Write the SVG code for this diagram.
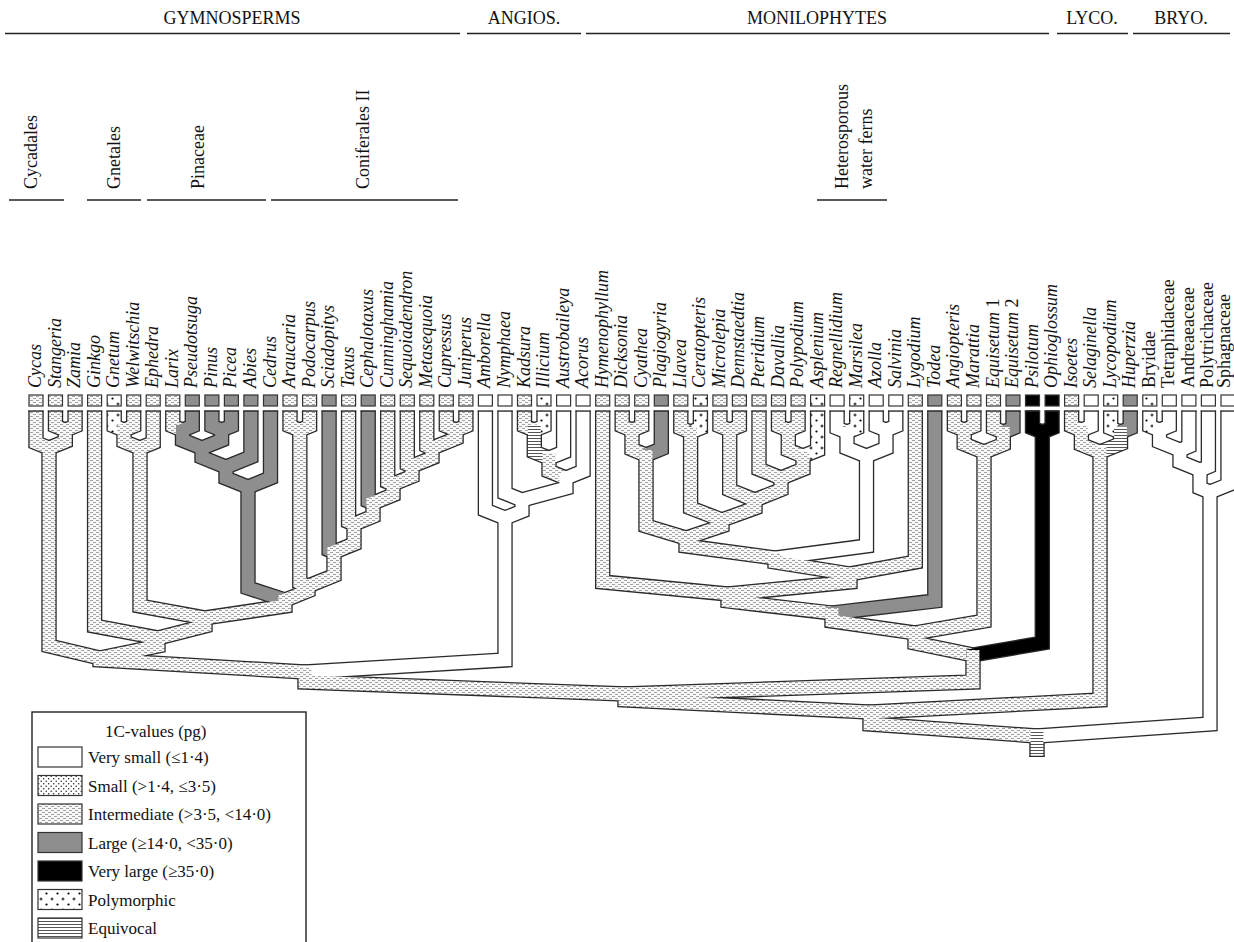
<svg xmlns="http://www.w3.org/2000/svg" width="1234" height="942" viewBox="0 0 1234 942">
<defs>
<style>
.hd{font-family:"Liberation Serif","Times New Roman",serif;font-size:18px;fill:#111}
.tl{font-family:"Liberation Serif","Times New Roman",serif;font-size:18px;font-style:italic;fill:#111}
.tr{font-family:"Liberation Serif","Times New Roman",serif;font-size:18px;fill:#111}
.lg{font-family:"Liberation Serif","Times New Roman",serif;font-size:17px;fill:#111}
.ln{stroke:#222;stroke-width:1.6;fill:none}
.bx{stroke:#333;stroke-width:1.2}
.bi{fill:url(#pI)} .bw{fill:#fff} .bl{fill:#8e8e8e} .bk{fill:#000} .bp{fill:url(#pP)} .be{fill:url(#pE)} .bs{fill:url(#pS)}
.o{fill:none;stroke:#2b2b2b;stroke-width:15.4;stroke-linejoin:miter;stroke-miterlimit:10}
.f{fill:none;stroke-width:12.8;stroke-linejoin:miter;stroke-miterlimit:10}
.si{stroke:url(#pI)} .sw{stroke:#fff} .sl{stroke:#8e8e8e} .sk{stroke:#000} .sp{stroke:url(#pP)} .se{stroke:url(#pE)}
</style>
<pattern id="pI" width="6" height="4" patternUnits="userSpaceOnUse"><rect width="6" height="4" fill="#f7f7f7"/><rect x="0" y="0" width="3" height="1" fill="#a3a3a3"/><rect x="3" y="2" width="3" height="1" fill="#a3a3a3"/></pattern>
<pattern id="pS" width="5" height="5" patternUnits="userSpaceOnUse"><rect width="5" height="5" fill="#fff"/><circle cx="1.2" cy="1.2" r="0.75" fill="#222"/><circle cx="3.7" cy="3.7" r="0.75" fill="#222"/></pattern>
<pattern id="pP" width="11" height="11" patternUnits="userSpaceOnUse"><rect width="11" height="11" fill="#fff"/><circle cx="2.5" cy="2.5" r="1.1" fill="#000"/><path d="M8 6.5v3M6.5 8h3" stroke="#000" stroke-width="0.9"/></pattern>
<pattern id="pE" width="4" height="3" patternUnits="userSpaceOnUse"><rect width="4" height="3" fill="#fff"/><rect y="0" width="4" height="1" fill="#555"/></pattern>

<path id="e1" d="M36 410.5V442.8L49 448V451"/>
<path id="e2" d="M55.5 410.5V426.1L65.3 430V433"/>
<path id="e3" d="M75.1 410.5V426.1L65.3 430V433"/>
<path id="eSZ" d="M65.3 425V441.5L49 448V451"/>
<path id="eCYC" d="M49 443V646L100 658V661"/>
<path id="e4" d="M94.6 410.5V626L158 638V641"/>
<path id="e5" d="M114.2 410.5V426.1L124 430V433"/>
<path id="e6" d="M133.7 410.5V426.1L124 430V433"/>
<path id="eGW" d="M124 425V441.6L140 448V451"/>
<path id="e7" d="M153.2 410.5V442.7L140 448V451"/>
<path id="eGNE" d="M140 443V606L205 618V621"/>
<path id="e8" d="M172.8 410.5V426.1L182.5 430V433"/>
<path id="e9" d="M192.3 410.5V426.1L182.5 430V433"/>
<path id="e10" d="M211.9 410.5V426.1L221.6 430V433"/>
<path id="e11" d="M231.4 410.5V426.1L221.6 430V433"/>
<path id="eLP" d="M182.5 425V440.2L202 448V451"/>
<path id="ePP" d="M221.6 425V440.2L202 448V451"/>
<path id="ePIN1" d="M202 443V457.4L226 467V470"/>
<path id="e12" d="M250.9 410.5V457L226 467V470"/>
<path id="ePIN2" d="M226 462V478.2L248 487V490"/>
<path id="e13" d="M270.5 410.5V478L248 487V490"/>
<path id="ePIN3" d="M248 482V588L285 600V603"/>
<path id="e14" d="M290 410.5V426.1L299.8 430V433"/>
<path id="e15" d="M309.6 410.5V426.1L299.8 430V433"/>
<path id="eAP" d="M299.8 425V582.7L308 586V589"/>
<path id="e16" d="M329.1 410.5V550L334 552V555"/>
<path id="e17" d="M348.6 410.5V521.8L354 524V527"/>
<path id="e18" d="M368.2 410.5V501L373 503V506"/>
<path id="e19" d="M387.7 410.5V481.9L393 484V487"/>
<path id="e20" d="M407.3 410.5V464.1L412 466V469"/>
<path id="e21" d="M426.8 410.5V445.9L432 448V451"/>
<path id="e22" d="M446.3 410.5V426.1L456.1 430V433"/>
<path id="e23" d="M465.9 410.5V426.1L456.1 430V433"/>
<path id="eC1" d="M456.1 425V438.4L432 448V451"/>
<path id="eC2" d="M432 443V458L412 466V469"/>
<path id="eC3" d="M412 461V476.4L393 484V487"/>
<path id="eC4" d="M393 479V495L373 503V506"/>
<path id="eC5" d="M373 498V516.4L354 524V527"/>
<path id="eC6" d="M354 519V544L334 552V555"/>
<path id="eC7" d="M334 547V575.6L308 586V589"/>
<path id="eCON" d="M308 581V590.8L285 600V603"/>
<path id="eCONIF" d="M285 595V606L205 618V621"/>
<path id="eGNECON" d="M205 613V626L158 638V641"/>
<path id="eGIN" d="M158 633V646L100 658V661"/>
<path id="eGYM" d="M100 653V660L305 672V675"/>
<path id="e24" d="M485.4 410.5V510.2L505 518V521"/>
<path id="e25" d="M505 410.5V493.2L522 500V503"/>
<path id="e26" d="M524.5 410.5V426.1L534.3 430V433"/>
<path id="e27" d="M544 410.5V426.1L534.3 430V433"/>
<path id="eKI" d="M534.3 425V452.1L549 458V461"/>
<path id="e28" d="M563.6 410.5V452.2L549 458V461"/>
<path id="eAUS" d="M549 453V471.2L566 478V481"/>
<path id="e29" d="M583.1 410.5V471.2L566 478V481"/>
<path id="eAUSAC" d="M566 473V488L522 500V503"/>
<path id="eNY" d="M522 495V511.2L505 518V521"/>
<path id="eANGIO" d="M505 513V660L305 672V675"/>
<path id="eSEED" d="M305 667V682L625 694V697"/>
<path id="e30" d="M602.7 410.5V582L728 594V597"/>
<path id="e31" d="M622.2 410.5V426.1L632 430V433"/>
<path id="e32" d="M641.7 410.5V426.1L632 430V433"/>
<path id="eDC" d="M632 425V449.4L646 455V458"/>
<path id="e33" d="M661.3 410.5V448.9L646 455V458"/>
<path id="eTF" d="M646 450V526L686 538V541"/>
<path id="e34" d="M680.8 410.5V428.1L690.6 432V435"/>
<path id="e35" d="M700.4 410.5V428.1L690.6 432V435"/>
<path id="eLC" d="M690.6 427V508L722 520V523"/>
<path id="e36" d="M719.9 410.5V426.1L729.7 430V433"/>
<path id="e37" d="M739.4 410.5V426.1L729.7 430V433"/>
<path id="eMD" d="M729.7 425V489.9L755 500V503"/>
<path id="e38" d="M759 410.5V469.2L781 478V481"/>
<path id="e39" d="M778.5 410.5V426.1L788.3 430V433"/>
<path id="e40" d="M798.1 410.5V426.1L788.3 430V433"/>
<path id="eDP" d="M788.3 425V450.1L803 456V459"/>
<path id="e41" d="M817.6 410.5V450.2L803 456V459"/>
<path id="eDPA" d="M803 451V469.2L781 478V481"/>
<path id="ePTE" d="M781 473V489.6L755 500V503"/>
<path id="eDEN" d="M755 495V508L722 520V523"/>
<path id="ePTD" d="M722 515V526L686 538V541"/>
<path id="ePOLY" d="M686 533V546L775 558V561"/>
<path id="e42" d="M837.1 410.5V428.1L847 432V435"/>
<path id="e43" d="M856.7 410.5V428.1L847 432V435"/>
<path id="e44" d="M876.2 410.5V426.1L886 430V433"/>
<path id="e45" d="M895.8 410.5V426.1L886 430V433"/>
<path id="eRM" d="M847 427V448.2L866.5 456V459"/>
<path id="eAS" d="M886 425V448.2L866.5 456V459"/>
<path id="eHET" d="M866.5 451V546L775 558V561"/>
<path id="eCORE" d="M775 553V562L850 574V577"/>
<path id="e46" d="M915.3 410.5V562L850 574V577"/>
<path id="eLYG" d="M850 569V582L728 594V597"/>
<path id="eHYM" d="M728 589V601L832 613V616"/>
<path id="e47" d="M934.8 410.5V601L832 613V616"/>
<path id="eTOD" d="M832 608V621L915 633V636"/>
<path id="e48" d="M954.4 410.5V426.1L964.2 430V433"/>
<path id="e49" d="M973.9 410.5V426.1L964.2 430V433"/>
<path id="e50" d="M993.5 410.5V428.1L1003.3 432V435"/>
<path id="e51" d="M1013 410.5V428.1L1003.3 432V435"/>
<path id="eMAR" d="M964.2 425V444.1L984 452V455"/>
<path id="eEQU" d="M1003.3 427V444.3L984 452V455"/>
<path id="eMAREQ" d="M984 447V621L915 633V636"/>
<path id="eLM" d="M915 628V643L973 655V658"/>
<path id="e52" d="M1032.5 410.5V428.1L1042.3 432V435"/>
<path id="e53" d="M1052.1 410.5V428.1L1042.3 432V435"/>
<path id="ePSO" d="M1042.3 427V643L973 655V658"/>
<path id="eMONIL" d="M973 650V682L625 694V697"/>
<path id="eEUPH" d="M625 689V700L870 712V715"/>
<path id="e54" d="M1071.6 410.5V426.1L1081.4 430V433"/>
<path id="e55" d="M1091.2 410.5V426.1L1081.4 430V433"/>
<path id="e56" d="M1110.7 410.5V428.1L1120.5 432V435"/>
<path id="e57" d="M1130.2 410.5V428.1L1120.5 432V435"/>
<path id="eIS" d="M1081.4 425V444.6L1100 452V455"/>
<path id="eLH" d="M1120.5 427V443.8L1100 452V455"/>
<path id="eLYC" d="M1100 447V700L870 712V715"/>
<path id="eVASC" d="M870 707V724L1037 736V739"/>
<path id="e58" d="M1149.8 410.5V426.1L1159.5 430V433"/>
<path id="e59" d="M1169.3 410.5V426.1L1159.5 430V433"/>
<path id="eB1" d="M1159.5 425V441.8L1180 450V453"/>
<path id="e60" d="M1188.9 410.5V446.4L1180 450V453"/>
<path id="eB2" d="M1180 445V462L1200 470V473"/>
<path id="e61" d="M1208.4 410.5V466.6L1200 470V473"/>
<path id="eB3" d="M1200 465V488L1210 492V495"/>
<path id="e62" d="M1228 410.5V484.8L1210 492V495"/>
<path id="eB4" d="M1210 487V724L1037 736V739"/>
<path id="eROOT" d="M1037 731V757"/>
</defs>

<rect width="1234" height="942" fill="#fff"/>

<g id="clade-headers">
<g id="h-gymnosperms"><line class="ln" x1="5" y1="33.5" x2="460" y2="33.5"/><text class="hd" x="232" y="24" text-anchor="middle">GYMNOSPERMS</text></g>
<g id="h-angios"><line class="ln" x1="467" y1="33.5" x2="581" y2="33.5"/><text class="hd" x="524" y="24" text-anchor="middle">ANGIOS.</text></g>
<g id="h-monilophytes"><line class="ln" x1="586" y1="33.5" x2="1049" y2="33.5"/><text class="hd" x="817" y="24" text-anchor="middle">MONILOPHYTES</text></g>
<g id="h-lyco"><line class="ln" x1="1057" y1="33.5" x2="1128" y2="33.5"/><text class="hd" x="1092" y="24" text-anchor="middle">LYCO.</text></g>
<g id="h-bryo"><line class="ln" x1="1133" y1="33.5" x2="1230" y2="33.5"/><text class="hd" x="1181" y="24" text-anchor="middle">BRYO.</text></g>
<g id="h-cycadales"><line class="ln" x1="9" y1="200" x2="64" y2="200"/><text class="hd" transform="translate(36.5,189) rotate(-90)">Cycadales</text></g>
<g id="h-gnetales"><line class="ln" x1="87" y1="200" x2="141" y2="200"/><text class="hd" transform="translate(120,189) rotate(-90)">Gnetales</text></g>
<g id="h-pinaceae"><line class="ln" x1="147" y1="200" x2="266" y2="200"/><text class="hd" transform="translate(204,189) rotate(-90)">Pinaceae</text></g>
<g id="h-coniferales"><line class="ln" x1="271" y1="200" x2="458" y2="200"/><text class="hd" transform="translate(368.5,189) rotate(-90)">Coniferales II</text></g>
<g id="h-waterferns"><line class="ln" x1="817" y1="200" x2="887" y2="200"/><text class="hd" transform="translate(848,189) rotate(-90)">Heterosporous</text><text class="hd" transform="translate(872,189) rotate(-90)">water ferns</text></g>
</g>

<g id="connectors">
<g id="branch-outlines">
<use href="#e1" class="o"/><use href="#e2" class="o"/><use href="#e3" class="o"/><use href="#eSZ" class="o"/><use href="#eCYC" class="o"/><use href="#e4" class="o"/><use href="#e5" class="o"/><use href="#e6" class="o"/><use href="#eGW" class="o"/><use href="#e7" class="o"/><use href="#eGNE" class="o"/>
<use href="#e8" class="o"/><use href="#e9" class="o"/><use href="#e10" class="o"/><use href="#e11" class="o"/><use href="#eLP" class="o"/><use href="#ePP" class="o"/><use href="#ePIN1" class="o"/><use href="#e12" class="o"/><use href="#ePIN2" class="o"/><use href="#e13" class="o"/><use href="#ePIN3" class="o"/>
<use href="#e14" class="o"/><use href="#e15" class="o"/><use href="#eAP" class="o"/><use href="#e16" class="o"/><use href="#e17" class="o"/><use href="#e18" class="o"/><use href="#e19" class="o"/><use href="#e20" class="o"/><use href="#e21" class="o"/><use href="#e22" class="o"/><use href="#e23" class="o"/>
<use href="#eC1" class="o"/><use href="#eC2" class="o"/><use href="#eC3" class="o"/><use href="#eC4" class="o"/><use href="#eC5" class="o"/><use href="#eC6" class="o"/><use href="#eC7" class="o"/><use href="#eCON" class="o"/><use href="#eCONIF" class="o"/><use href="#eGNECON" class="o"/><use href="#eGIN" class="o"/><use href="#eGYM" class="o"/>
<use href="#e24" class="o"/><use href="#e25" class="o"/><use href="#e26" class="o"/><use href="#e27" class="o"/><use href="#eKI" class="o"/><use href="#e28" class="o"/><use href="#eAUS" class="o"/><use href="#e29" class="o"/><use href="#eAUSAC" class="o"/><use href="#eNY" class="o"/><use href="#eANGIO" class="o"/><use href="#eSEED" class="o"/>
<use href="#e30" class="o"/><use href="#e31" class="o"/><use href="#e32" class="o"/><use href="#eDC" class="o"/><use href="#e33" class="o"/><use href="#eTF" class="o"/><use href="#e34" class="o"/><use href="#e35" class="o"/><use href="#eLC" class="o"/><use href="#e36" class="o"/><use href="#e37" class="o"/><use href="#eMD" class="o"/>
<use href="#e38" class="o"/><use href="#e39" class="o"/><use href="#e40" class="o"/><use href="#eDP" class="o"/><use href="#e41" class="o"/><use href="#eDPA" class="o"/><use href="#ePTE" class="o"/><use href="#eDEN" class="o"/><use href="#ePTD" class="o"/><use href="#ePOLY" class="o"/>
<use href="#e42" class="o"/><use href="#e43" class="o"/><use href="#e44" class="o"/><use href="#e45" class="o"/><use href="#eRM" class="o"/><use href="#eAS" class="o"/><use href="#eHET" class="o"/><use href="#eCORE" class="o"/><use href="#e46" class="o"/><use href="#eLYG" class="o"/><use href="#eHYM" class="o"/><use href="#e47" class="o"/><use href="#eTOD" class="o"/>
<use href="#e48" class="o"/><use href="#e49" class="o"/><use href="#e50" class="o"/><use href="#e51" class="o"/><use href="#eMAR" class="o"/><use href="#eEQU" class="o"/><use href="#eMAREQ" class="o"/><use href="#eLM" class="o"/><use href="#e52" class="o"/><use href="#e53" class="o"/><use href="#ePSO" class="o"/><use href="#eMONIL" class="o"/><use href="#eEUPH" class="o"/>
<use href="#e54" class="o"/><use href="#e55" class="o"/><use href="#e56" class="o"/><use href="#e57" class="o"/><use href="#eIS" class="o"/><use href="#eLH" class="o"/><use href="#eLYC" class="o"/><use href="#eVASC" class="o"/>
<use href="#e58" class="o"/><use href="#e59" class="o"/><use href="#eB1" class="o"/><use href="#e60" class="o"/><use href="#eB2" class="o"/><use href="#e61" class="o"/><use href="#eB3" class="o"/><use href="#e62" class="o"/><use href="#eB4" class="o"/><use href="#eROOT" class="o"/>
</g>
<g id="branch-fills">
<use href="#e1" class="f si"/><use href="#e2" class="f si"/><use href="#e3" class="f si"/><use href="#eSZ" class="f si"/><use href="#eCYC" class="f si"/><use href="#e4" class="f si"/><use href="#e5" class="f sp"/><use href="#e6" class="f si"/><use href="#eGW" class="f si"/><use href="#e7" class="f si"/><use href="#eGNE" class="f si"/>
<use href="#e8" class="f si"/><use href="#e9" class="f sl"/><use href="#e10" class="f sl"/><use href="#e11" class="f sl"/><use href="#eLP" class="f sl"/><use href="#ePP" class="f sl"/><use href="#ePIN1" class="f sl"/><use href="#e12" class="f sl"/><use href="#ePIN2" class="f sl"/><use href="#e13" class="f sl"/><use href="#ePIN3" class="f sl"/>
<use href="#e14" class="f si"/><use href="#e15" class="f si"/><use href="#eAP" class="f si"/><use href="#e16" class="f sl"/><use href="#e17" class="f si"/><use href="#e18" class="f sl"/><use href="#e19" class="f si"/><use href="#e20" class="f si"/><use href="#e21" class="f si"/><use href="#e22" class="f si"/><use href="#e23" class="f si"/>
<use href="#eC1" class="f si"/><use href="#eC2" class="f si"/><use href="#eC3" class="f si"/><use href="#eC4" class="f si"/><use href="#eC5" class="f si"/><use href="#eC6" class="f si"/><use href="#eC7" class="f si"/><use href="#eCON" class="f si"/><use href="#eCONIF" class="f si"/><use href="#eGNECON" class="f si"/><use href="#eGIN" class="f si"/><use href="#eGYM" class="f si"/>
<use href="#e24" class="f sw"/><use href="#e25" class="f sw"/><use href="#e26" class="f si"/><use href="#e27" class="f sp"/><use href="#eKI" class="f se"/><use href="#e28" class="f sw"/><use href="#eAUS" class="f si"/><use href="#e29" class="f sw"/><use href="#eAUSAC" class="f sw"/><use href="#eNY" class="f sw"/><use href="#eANGIO" class="f sw"/><use href="#eSEED" class="f si"/>
<use href="#e30" class="f si"/><use href="#e31" class="f si"/><use href="#e32" class="f si"/><use href="#eDC" class="f si"/><use href="#e33" class="f sl"/><use href="#eTF" class="f si"/><use href="#e34" class="f si"/><use href="#e35" class="f sp"/><use href="#eLC" class="f si"/><use href="#e36" class="f si"/><use href="#e37" class="f si"/><use href="#eMD" class="f si"/>
<use href="#e38" class="f si"/><use href="#e39" class="f si"/><use href="#e40" class="f si"/><use href="#eDP" class="f si"/><use href="#e41" class="f sp"/><use href="#eDPA" class="f si"/><use href="#ePTE" class="f si"/><use href="#eDEN" class="f si"/><use href="#ePTD" class="f si"/><use href="#ePOLY" class="f si"/>
<use href="#e42" class="f sw"/><use href="#e43" class="f sp"/><use href="#e44" class="f sw"/><use href="#e45" class="f sw"/><use href="#eRM" class="f sw"/><use href="#eAS" class="f sw"/><use href="#eHET" class="f sw"/><use href="#eCORE" class="f si"/><use href="#e46" class="f si"/><use href="#eLYG" class="f si"/><use href="#eHYM" class="f si"/><use href="#e47" class="f sl"/><use href="#eTOD" class="f si"/>
<use href="#e48" class="f si"/><use href="#e49" class="f si"/><use href="#e50" class="f si"/><use href="#e51" class="f sl"/><use href="#eMAR" class="f si"/><use href="#eEQU" class="f si"/><use href="#eMAREQ" class="f si"/><use href="#eLM" class="f si"/><use href="#e52" class="f sk"/><use href="#e53" class="f sk"/><use href="#ePSO" class="f sk"/><use href="#eMONIL" class="f si"/><use href="#eEUPH" class="f si"/>
<use href="#e54" class="f si"/><use href="#e55" class="f sw"/><use href="#e56" class="f sp"/><use href="#e57" class="f sl"/><use href="#eIS" class="f si"/><use href="#eLH" class="f se"/><use href="#eLYC" class="f si"/><use href="#eVASC" class="f si"/>
<use href="#e58" class="f sp"/><use href="#e59" class="f sw"/><use href="#eB1" class="f sw"/><use href="#e60" class="f sw"/><use href="#eB2" class="f sw"/><use href="#e61" class="f sw"/><use href="#eB3" class="f sw"/><use href="#e62" class="f sw"/><use href="#eB4" class="f sw"/><use href="#eROOT" class="f se"/>
</g>
<path id="branch-caps" fill="none" stroke="#2b2b2b" stroke-width="1.3" d="M28.3 411.1h15.4M47.8 411.1h15.4M67.4 411.1h15.4M86.9 411.1h15.4M106.5 411.1h15.4M126 411.1h15.4M145.5 411.1h15.4M165.1 411.1h15.4M184.6 411.1h15.4M204.2 411.1h15.4M223.7 411.1h15.4M243.2 411.1h15.4M262.8 411.1h15.4M282.3 411.1h15.4M301.9 411.1h15.4M321.4 411.1h15.4M340.9 411.1h15.4M360.5 411.1h15.4M380 411.1h15.4M399.6 411.1h15.4M419.1 411.1h15.4M438.6 411.1h15.4M458.2 411.1h15.4M477.7 411.1h15.4M497.3 411.1h15.4M516.8 411.1h15.4M536.3 411.1h15.4M555.9 411.1h15.4M575.4 411.1h15.4M595 411.1h15.4M614.5 411.1h15.4M634 411.1h15.4M653.6 411.1h15.4M673.1 411.1h15.4M692.7 411.1h15.4M712.2 411.1h15.4M731.7 411.1h15.4M751.3 411.1h15.4M770.8 411.1h15.4M790.4 411.1h15.4M809.9 411.1h15.4M829.4 411.1h15.4M849 411.1h15.4M868.5 411.1h15.4M888.1 411.1h15.4M907.6 411.1h15.4M927.1 411.1h15.4M946.7 411.1h15.4M966.2 411.1h15.4M985.8 411.1h15.4M1005.3 411.1h15.4M1024.8 411.1h15.4M1044.4 411.1h15.4M1063.9 411.1h15.4M1083.5 411.1h15.4M1103 411.1h15.4M1122.5 411.1h15.4M1142.1 411.1h15.4M1161.6 411.1h15.4M1181.2 411.1h15.4M1200.7 411.1h15.4M1220.3 411.1h15.4M1029.3 756.4h15.4"/>
</g>

<g id="taxa">
<g id="n-cycas"><rect class="bx bi" x="29" y="395" width="14" height="11"/><text class="tl" transform="translate(41,388) rotate(-90)">Cycas</text></g>
<g id="n-stangeria"><rect class="bx bi" x="48.5" y="395" width="14" height="11"/><text class="tl" transform="translate(60.5,388) rotate(-90)">Stangeria</text></g>
<g id="n-zamia"><rect class="bx bi" x="68.1" y="395" width="14" height="11"/><text class="tl" transform="translate(80.1,388) rotate(-90)">Zamia</text></g>
<g id="n-ginkgo"><rect class="bx bi" x="87.6" y="395" width="14" height="11"/><text class="tl" transform="translate(99.6,388) rotate(-90)">Ginkgo</text></g>
<g id="n-gnetum"><rect class="bx bp" x="107.2" y="395" width="14" height="11"/><text class="tl" transform="translate(119.2,388) rotate(-90)">Gnetum</text></g>
<g id="n-welwitschia"><rect class="bx bi" x="126.7" y="395" width="14" height="11"/><text class="tl" transform="translate(138.7,388) rotate(-90)">Welwitschia</text></g>
<g id="n-ephedra"><rect class="bx bi" x="146.2" y="395" width="14" height="11"/><text class="tl" transform="translate(158.2,388) rotate(-90)">Ephedra</text></g>
<g id="n-larix"><rect class="bx bi" x="165.8" y="395" width="14" height="11"/><text class="tl" transform="translate(177.8,388) rotate(-90)">Larix</text></g>
<g id="n-pseudotsuga"><rect class="bx bl" x="185.3" y="395" width="14" height="11"/><text class="tl" transform="translate(197.3,388) rotate(-90)">Pseudotsuga</text></g>
<g id="n-pinus"><rect class="bx bl" x="204.9" y="395" width="14" height="11"/><text class="tl" transform="translate(216.9,388) rotate(-90)">Pinus</text></g>
<g id="n-picea"><rect class="bx bl" x="224.4" y="395" width="14" height="11"/><text class="tl" transform="translate(236.4,388) rotate(-90)">Picea</text></g>
<g id="n-abies"><rect class="bx bl" x="243.9" y="395" width="14" height="11"/><text class="tl" transform="translate(255.9,388) rotate(-90)">Abies</text></g>
<g id="n-cedrus"><rect class="bx bl" x="263.5" y="395" width="14" height="11"/><text class="tl" transform="translate(275.5,388) rotate(-90)">Cedrus</text></g>
<g id="n-araucaria"><rect class="bx bi" x="283" y="395" width="14" height="11"/><text class="tl" transform="translate(295,388) rotate(-90)">Araucaria</text></g>
<g id="n-podocarpus"><rect class="bx bi" x="302.6" y="395" width="14" height="11"/><text class="tl" transform="translate(314.6,388) rotate(-90)">Podocarpus</text></g>
<g id="n-sciadopitys"><rect class="bx bl" x="322.1" y="395" width="14" height="11"/><text class="tl" transform="translate(334.1,388) rotate(-90)">Sciadopitys</text></g>
<g id="n-taxus"><rect class="bx bi" x="341.6" y="395" width="14" height="11"/><text class="tl" transform="translate(353.6,388) rotate(-90)">Taxus</text></g>
<g id="n-cephalotaxus"><rect class="bx bl" x="361.2" y="395" width="14" height="11"/><text class="tl" transform="translate(373.2,388) rotate(-90)">Cephalotaxus</text></g>
<g id="n-cunninghamia"><rect class="bx bi" x="380.7" y="395" width="14" height="11"/><text class="tl" transform="translate(392.7,388) rotate(-90)">Cunninghamia</text></g>
<g id="n-sequoiadendron"><rect class="bx bi" x="400.3" y="395" width="14" height="11"/><text class="tl" transform="translate(412.3,388) rotate(-90)">Sequoiadendron</text></g>
<g id="n-metasequoia"><rect class="bx bi" x="419.8" y="395" width="14" height="11"/><text class="tl" transform="translate(431.8,388) rotate(-90)">Metasequoia</text></g>
<g id="n-cupressus"><rect class="bx bi" x="439.3" y="395" width="14" height="11"/><text class="tl" transform="translate(451.3,388) rotate(-90)">Cupressus</text></g>
<g id="n-juniperus"><rect class="bx bi" x="458.9" y="395" width="14" height="11"/><text class="tl" transform="translate(470.9,388) rotate(-90)">Juniperus</text></g>
<g id="n-amborella"><rect class="bx bw" x="478.4" y="395" width="14" height="11"/><text class="tl" transform="translate(490.4,388) rotate(-90)">Amborella</text></g>
<g id="n-nymphaea"><rect class="bx bw" x="498" y="395" width="14" height="11"/><text class="tl" transform="translate(510,388) rotate(-90)">Nymphaea</text></g>
<g id="n-kadsura"><rect class="bx bi" x="517.5" y="395" width="14" height="11"/><text class="tl" transform="translate(529.5,388) rotate(-90)">Kadsura</text></g>
<g id="n-illicium"><rect class="bx bp" x="537" y="395" width="14" height="11"/><text class="tl" transform="translate(549,388) rotate(-90)">Illicium</text></g>
<g id="n-austrobaileya"><rect class="bx bw" x="556.6" y="395" width="14" height="11"/><text class="tl" transform="translate(568.6,388) rotate(-90)">Austrobaileya</text></g>
<g id="n-acorus"><rect class="bx bw" x="576.1" y="395" width="14" height="11"/><text class="tl" transform="translate(588.1,388) rotate(-90)">Acorus</text></g>
<g id="n-hymenophyllum"><rect class="bx bi" x="595.7" y="395" width="14" height="11"/><text class="tl" transform="translate(607.7,388) rotate(-90)">Hymenophyllum</text></g>
<g id="n-dicksonia"><rect class="bx bi" x="615.2" y="395" width="14" height="11"/><text class="tl" transform="translate(627.2,388) rotate(-90)">Dicksonia</text></g>
<g id="n-cyathea"><rect class="bx bi" x="634.7" y="395" width="14" height="11"/><text class="tl" transform="translate(646.7,388) rotate(-90)">Cyathea</text></g>
<g id="n-plagiogyria"><rect class="bx bl" x="654.3" y="395" width="14" height="11"/><text class="tl" transform="translate(666.3,388) rotate(-90)">Plagiogyria</text></g>
<g id="n-llavea"><rect class="bx bi" x="673.8" y="395" width="14" height="11"/><text class="tl" transform="translate(685.8,388) rotate(-90)">Llavea</text></g>
<g id="n-ceratopteris"><rect class="bx bp" x="693.4" y="395" width="14" height="11"/><text class="tl" transform="translate(705.4,388) rotate(-90)">Ceratopteris</text></g>
<g id="n-microlepia"><rect class="bx bi" x="712.9" y="395" width="14" height="11"/><text class="tl" transform="translate(724.9,388) rotate(-90)">Microlepia</text></g>
<g id="n-dennstaedtia"><rect class="bx bi" x="732.4" y="395" width="14" height="11"/><text class="tl" transform="translate(744.4,388) rotate(-90)">Dennstaedtia</text></g>
<g id="n-pteridium"><rect class="bx bi" x="752" y="395" width="14" height="11"/><text class="tl" transform="translate(764,388) rotate(-90)">Pteridium</text></g>
<g id="n-davallia"><rect class="bx bi" x="771.5" y="395" width="14" height="11"/><text class="tl" transform="translate(783.5,388) rotate(-90)">Davallia</text></g>
<g id="n-polypodium"><rect class="bx bi" x="791.1" y="395" width="14" height="11"/><text class="tl" transform="translate(803.1,388) rotate(-90)">Polypodium</text></g>
<g id="n-asplenium"><rect class="bx bp" x="810.6" y="395" width="14" height="11"/><text class="tl" transform="translate(822.6,388) rotate(-90)">Asplenium</text></g>
<g id="n-regnellidium"><rect class="bx bw" x="830.1" y="395" width="14" height="11"/><text class="tl" transform="translate(842.1,388) rotate(-90)">Regnellidium</text></g>
<g id="n-marsilea"><rect class="bx bp" x="849.7" y="395" width="14" height="11"/><text class="tl" transform="translate(861.7,388) rotate(-90)">Marsilea</text></g>
<g id="n-azolla"><rect class="bx bw" x="869.2" y="395" width="14" height="11"/><text class="tl" transform="translate(881.2,388) rotate(-90)">Azolla</text></g>
<g id="n-salvinia"><rect class="bx bw" x="888.8" y="395" width="14" height="11"/><text class="tl" transform="translate(900.8,388) rotate(-90)">Salvinia</text></g>
<g id="n-lygodium"><rect class="bx bi" x="908.3" y="395" width="14" height="11"/><text class="tl" transform="translate(920.3,388) rotate(-90)">Lygodium</text></g>
<g id="n-todea"><rect class="bx bl" x="927.8" y="395" width="14" height="11"/><text class="tl" transform="translate(939.8,388) rotate(-90)">Todea</text></g>
<g id="n-angiopteris"><rect class="bx bi" x="947.4" y="395" width="14" height="11"/><text class="tl" transform="translate(959.4,388) rotate(-90)">Angiopteris</text></g>
<g id="n-marattia"><rect class="bx bi" x="966.9" y="395" width="14" height="11"/><text class="tl" transform="translate(978.9,388) rotate(-90)">Marattia</text></g>
<g id="n-equisetum1"><rect class="bx bi" x="986.5" y="395" width="14" height="11"/><text class="tl" transform="translate(998.5,388) rotate(-90)">Equisetum <tspan font-style="normal">1</tspan></text></g>
<g id="n-equisetum2"><rect class="bx bl" x="1006" y="395" width="14" height="11"/><text class="tl" transform="translate(1018,388) rotate(-90)">Equisetum <tspan font-style="normal">2</tspan></text></g>
<g id="n-psilotum"><rect class="bx bk" x="1025.5" y="395" width="14" height="11"/><text class="tl" transform="translate(1037.5,388) rotate(-90)">Psilotum</text></g>
<g id="n-ophioglossum"><rect class="bx bk" x="1045.1" y="395" width="14" height="11"/><text class="tl" transform="translate(1057.1,388) rotate(-90)">Ophioglossum</text></g>
<g id="n-isoetes"><rect class="bx bi" x="1064.6" y="395" width="14" height="11"/><text class="tl" transform="translate(1076.6,388) rotate(-90)">Isoetes</text></g>
<g id="n-selaginella"><rect class="bx bw" x="1084.2" y="395" width="14" height="11"/><text class="tl" transform="translate(1096.2,388) rotate(-90)">Selaginella</text></g>
<g id="n-lycopodium"><rect class="bx bp" x="1103.7" y="395" width="14" height="11"/><text class="tl" transform="translate(1115.7,388) rotate(-90)">Lycopodium</text></g>
<g id="n-huperzia"><rect class="bx bl" x="1123.2" y="395" width="14" height="11"/><text class="tl" transform="translate(1135.2,388) rotate(-90)">Huperzia</text></g>
<g id="n-bryidae"><rect class="bx bp" x="1142.8" y="395" width="14" height="11"/><text class="tr" transform="translate(1154.8,388) rotate(-90)">Bryidae</text></g>
<g id="n-tetraphidaceae"><rect class="bx bw" x="1162.3" y="395" width="14" height="11"/><text class="tr" transform="translate(1174.3,388) rotate(-90)">Tetraphidaceae</text></g>
<g id="n-andreaeaceae"><rect class="bx bw" x="1181.9" y="395" width="14" height="11"/><text class="tr" transform="translate(1193.9,388) rotate(-90)">Andreaeaceae</text></g>
<g id="n-polytrichaceae"><rect class="bx bw" x="1201.4" y="395" width="14" height="11"/><text class="tr" transform="translate(1213.4,388) rotate(-90)">Polytrichaceae</text></g>
<g id="n-sphagnaceae"><rect class="bx bw" x="1221" y="395" width="14" height="11"/><text class="tr" transform="translate(1229.5,388) rotate(-90)">Sphagnaceae</text></g>
</g>

<g id="legend">
<rect x="32" y="712" width="274" height="240" fill="#fff" stroke="#222" stroke-width="1.4"/>
<text class="lg" x="105" y="737">1C-values (pg)</text>
<rect class="bx bw" x="38" y="747" width="44" height="20"/><text class="lg" x="88" y="763">Very small (≤1·4)</text>
<rect class="bx bs" x="38" y="775.5" width="44" height="20"/><text class="lg" x="88" y="791.5">Small (&gt;1·4, ≤3·5)</text>
<rect class="bx bi" x="38" y="804" width="44" height="20"/><text class="lg" x="88" y="820">Intermediate (&gt;3·5, &lt;14·0)</text>
<rect class="bx bl" x="38" y="832.5" width="44" height="20"/><text class="lg" x="88" y="848.5">Large (≥14·0, &lt;35·0)</text>
<rect class="bx bk" x="38" y="861" width="44" height="20"/><text class="lg" x="88" y="877">Very large (≥35·0)</text>
<rect class="bx bp" x="38" y="889.5" width="44" height="20"/><text class="lg" x="88" y="905.5">Polymorphic</text>
<rect class="bx be" x="38" y="918" width="44" height="20"/><text class="lg" x="88" y="934">Equivocal</text>
</g>
</svg>
